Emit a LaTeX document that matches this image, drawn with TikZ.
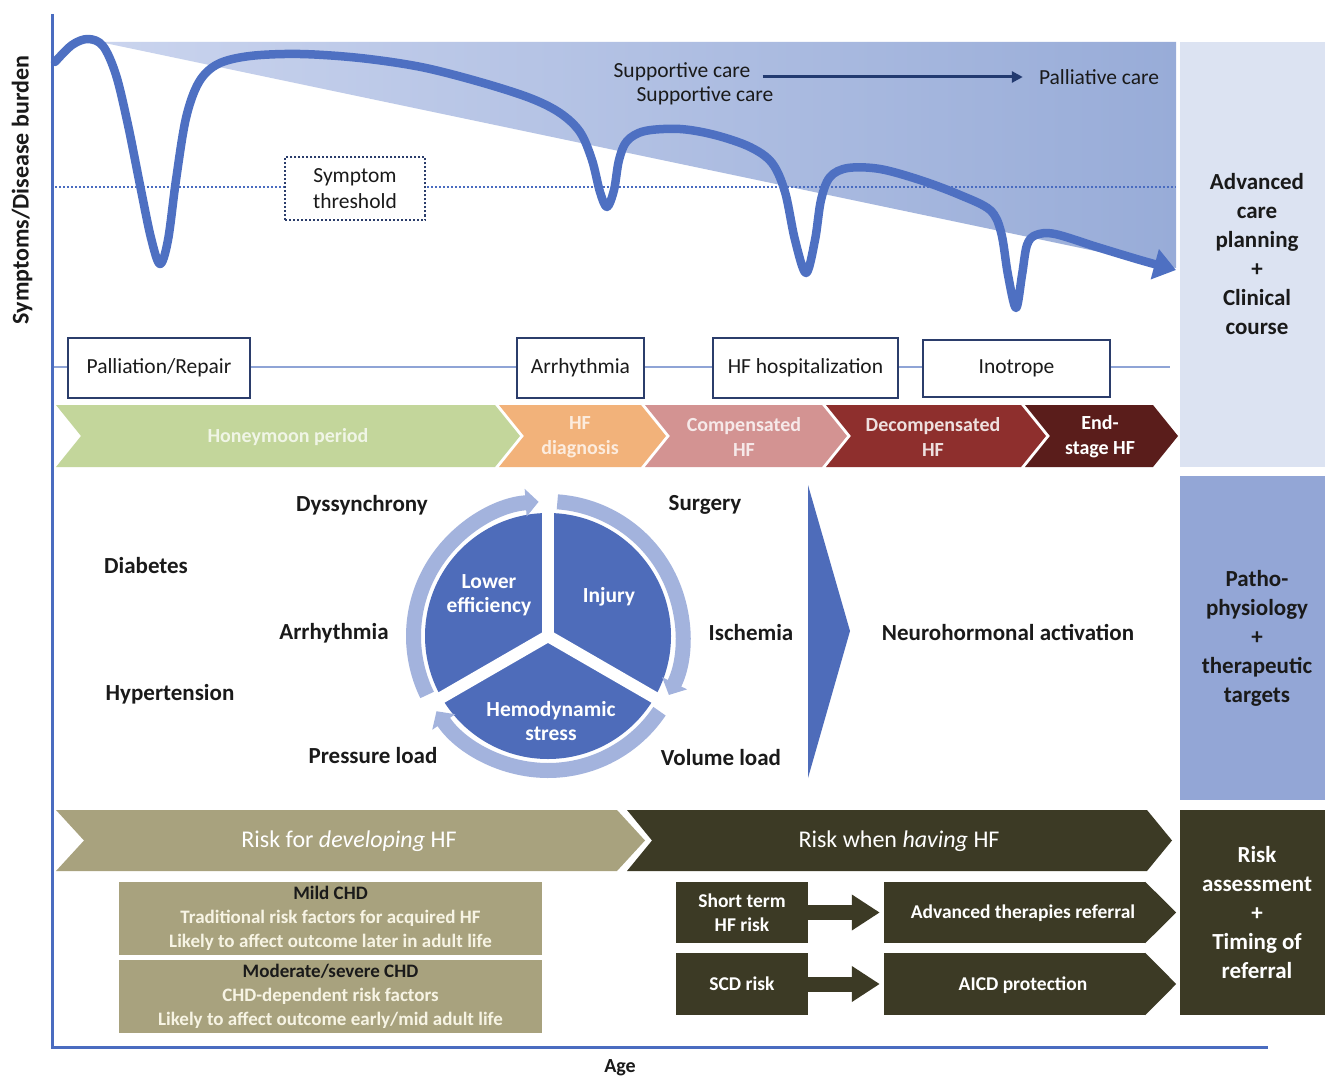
\documentclass[tikz,border=0pt]{standalone}
\usepackage{fontspec}
\setmainfont{Carlito}
\usetikzlibrary{arrows.meta,calc}
\newcommand\fsz[2]{\fontsize{#1}{#2}\selectfont}
\definecolor{axisblue}{HTML}{4A6CC0}
\definecolor{curveblue}{HTML}{4E70C2}
\definecolor{triL}{HTML}{CAD4EE}
\definecolor{triR}{HTML}{98ACD8}
\definecolor{navy}{HTML}{223A70}
\definecolor{evline}{HTML}{8FA4D6}
\definecolor{boxborder}{HTML}{2B3D6B}
\definecolor{honey}{HTML}{C3D69B}
\definecolor{diag}{HTML}{F2B27A}
\definecolor{comp}{HTML}{D39392}
\definecolor{decomp}{HTML}{8E2F2D}
\definecolor{endst}{HTML}{5A1D1B}
\definecolor{ring}{HTML}{A3B3DD}
\definecolor{sector}{HTML}{4E6CBA}
\definecolor{tanc}{HTML}{A8A27E}
\definecolor{olive}{HTML}{3C3A25}
\definecolor{colA}{HTML}{DCE3F2}
\definecolor{colB}{HTML}{93A6D6}
\definecolor{txt}{HTML}{1A1A1A}
\definecolor{cream}{HTML}{F7F4E4}
\newcommand\mychev[6]{\fill[#1] (#2,#4) -- (#3,#4) -- ({#3+#6},{(#4+#5)/2}) -- (#3,#5) -- (#2,#5) -- ({#2+#6},{(#4+#5)/2}) -- cycle;}
\tikzset{
  lbl/.style={font=\fsz{23}{27}\bfseries, text=txt, inner sep=0pt},
  evbox/.style={draw=boxborder, line width=1.8pt, fill=white, font=\fsz{21.5}{25}, text=txt, inner sep=0pt, minimum height=60pt},
  chtx/.style={font=\fsz{20}{25}\bfseries, align=center, inner sep=0pt},
  sidebox/.style={font=\fsz{23}{29}\bfseries, align=center, inner sep=0pt, minimum width=154pt},
  tanbox/.style={fill=tanc, minimum width=423pt, minimum height=73pt, inner sep=0pt, align=center, font=\fsz{19}{24}\bfseries, text=cream},
  darkbox/.style={fill=olive, inner sep=0pt, align=center, font=\fsz{19.5}{24}\bfseries, text=white},
  ringarr/.style={ring, line width=15pt, -{Triangle[width=27pt,length=13pt]}},
  bigarr/.style={olive, line width=15pt, -{Triangle[width=34pt,length=28pt]}},
  sectxt/.style={font=\fsz{21.5}{24}\bfseries, text=white, align=center, inner sep=0pt},
  caretxt/.style={font=\fsz{21.5}{24}, text=txt, inner sep=0pt},
  bandtxt/.style={font=\fsz{24}{28}, text=white, inner sep=0pt},
}
\begin{document}
\begin{tikzpicture}[x=1pt,y=-1pt]
\useasboundingbox (0,0) rectangle (1325,1078);
\fill[white] (0,0) rectangle (1325,1078);

% ---------- right column ----------
\node[sidebox, fill=colA, minimum height=425pt, text=txt] (colA) at (1257,254.5)
  {Advanced\\care\\planning\\+\\Clinical\\course};
\node[sidebox, fill=colB, minimum height=324pt, text=txt] (colB) at (1257,638)
  {Patho-\\physiology\\+\\therapeutic\\targets};
\node[sidebox, fill=olive, minimum height=205pt, text=white] (colC) at (1257,912.5)
  {Risk\\assessment\\+\\Timing of\\referral};

% ---------- top: disease course ----------
\shade[left color=triL, right color=triR] (100,42) -- (1176,42) -- (1176,268) -- cycle;
\draw[axisblue, dotted, line width=2pt] (55,187) -- (1176,187);
\node[draw=boxborder, dotted, line width=2pt, fill=white, minimum width=140pt, minimum height=63pt,
      align=center, font=\fsz{21.5}{26}, text=txt, inner sep=0pt] (thr) at (355,189) {Symptom\\threshold};

\node[caretxt] (sc1) at (682,72) {Supportive care};
\node[caretxt] (sc2) at (705,96) {Supportive care};
\node[caretxt] (pc) at (1099,77) {Palliative care};
\draw[navy, line width=3pt, -{Triangle[width=11pt,length=11pt]}, shorten <=12pt, shorten >=16pt]
  (sc1.east |- pc.west) -- (pc.west);

\draw[curveblue, line width=8.5pt, line cap=round, line join=round, -{Triangle[width=30pt,length=22pt]}]
  plot[smooth, tension=0.55] coordinates {
  (55,62) (72,45) (88,39) (103,46) (116,75) (128,125) (140,185) (151,238) (160,264)
  (168,240) (176,180) (186,118) (199,82) (218,64) (250,56) (300,54) (360,58) (421,67)
  (480,82) (530,98) (560,113) (580,132) (592,160) (600,192) (607,207) (614,190)
  (619,160) (627,141) (645,131) (680,129) (715,135) (750,147) (772,163) (785,192)
  (795,240) (806,273) (815,240) (821,200) (830,177) (848,168) (880,169) (920,180)
  (960,195) (990,210) (1001,232) (1008,275) (1016,308) (1022,275) (1027,245)
  (1036,235) (1055,234) (1097,247) (1140,260) (1176,270)};

% ---------- events ----------
\draw[evline, line width=1.5pt] (52,367) -- (1170,367);
\node[evbox, minimum width=182pt] (pr) at (159,368) {Palliation/Repair};
\node[evbox, minimum width=127pt] (ar) at (580.5,368) {Arrhythmia};
\node[evbox, minimum width=185pt] (hh) at (805.5,368) {HF hospitalization};
\node[evbox, minimum width=187pt, minimum height=57pt] (ino) at (1016.5,368.5) {Inotrope};

% ---------- stages ----------
\mychev{honey}{56}{495}{405}{467}{25}
\mychev{diag}{499}{641}{405}{467}{25}
\mychev{comp}{645}{822}{405}{467}{25}
\mychev{decomp}{826}{1021}{405}{467}{25}
\mychev{endst}{1025}{1153}{405}{467}{25}
\node[chtx, text=honey!25!white] (hm) at (288,437) {Honeymoon period};
\node[chtx, text=diag!25!white] (hd) at (580,437) {HF\\diagnosis};
\node[chtx, text=comp!20!white] (ch) at (744,437) {Compensated\\HF};
\node[chtx, text=decomp!15!white] (dh) at (933,437) {Decompensated\\HF};
\node[chtx, text=white] (eh) at (1100,437) {End-\\stage HF};

% ---------- pathophysiology ----------
\begin{scope}[shift={(548,636)}, y=1pt]
  \fill[sector] (0,0) circle[radius=123];
  \foreach \a in {90,210,330} \draw[white, line width=12pt] (0,0) -- (\a:128);
  \draw[ringarr] (206:134.5) arc[start angle=206, end angle=94, radius=134.5];
  \draw[ringarr] (86:134.5) arc[start angle=86, end angle=-26, radius=134.5];
  \draw[ringarr] (-34:134.5) arc[start angle=-34, end angle=-146, radius=134.5];
\end{scope}
\node[sectxt] (le) at (489,595) {Lower\\efficiency};
\node[sectxt] (inj) at (609,597) {Injury};
\node[sectxt] (hs) at (551,721) {Hemodynamic\\stress};

\node[lbl] (dys) at (362,505) {Dyssynchrony};
\node[lbl] (dia) at (146,566) {Diabetes};
\node[lbl] (arr) at (334,633) {Arrhythmia};
\node[lbl] (hyp) at (170,694) {Hypertension};
\node[lbl] (pl) at (373,756) {Pressure load};
\node[lbl] (sur) at (705,505) {Surgery};
\node[lbl] (isc) at (751,633) {Ischemia};
\node[lbl] (vl) at (721,758) {Volume load};
\fill[sector] (808,485) -- (850,631) -- (808,778) -- cycle;
\node[lbl] (nha) at (1008,632) {Neurohormonal activation};

% ---------- risk ----------
\mychev{tanc}{56}{617}{810}{871}{28}
\mychev{olive}{627}{1147}{810}{871}{25}
\node[bandtxt] (rdev) at (349,841) {Risk for \textit{developing} HF};
\node[bandtxt] (rhav) at (899,841) {Risk when \textit{having} HF};

\node[tanbox] (mild) at (330.5,918.5) {\textcolor{txt}{Mild CHD}\\Traditional risk factors for acquired HF\\Likely to affect outcome later in adult life};
\node[tanbox] (mod) at (330.5,996.5) {\textcolor{txt}{Moderate/severe CHD}\\CHD-dependent risk factors\\Likely to affect outcome early/mid adult life};

\node[darkbox, minimum width=132pt, minimum height=61pt] (st) at (742,912.5) {Short term\\HF risk};
\node[darkbox, minimum width=132pt, minimum height=62pt] (scd) at (742,984) {SCD risk};
\node[darkbox, minimum width=261pt, minimum height=61pt] (atr) at (1014.5,912.5) {};
\node[darkbox, minimum width=261pt, minimum height=62pt] (aicd) at (1014.5,984) {};
\fill[olive] (atr.north east) -- ($(atr.east)+(31,0)$) -- (atr.south east) -- cycle;
\fill[olive] (aicd.north east) -- ($(aicd.east)+(31,0)$) -- (aicd.south east) -- cycle;
\node[darkbox] (atrt) at (1023,913) {Advanced therapies referral};
\node[darkbox] (aicdt) at (1023,985) {AICD protection};
\draw[bigarr, shorten >=4pt] (st.east) -- (atr.west);
\draw[bigarr, shorten >=4pt] (scd.east) -- (aicd.west);

% ---------- axes ----------
\draw[axisblue, line width=3pt] (52,14) -- (52,1047) -- (1268,1047);
\node[lbl, rotate=90, font=\fsz{24}{28}\bfseries] (ylab) at (22,190) {Symptoms/Disease burden};
\node[lbl, font=\fsz{20}{24}\bfseries] (age) at (620,1068) {Age};
\end{tikzpicture}
\end{document}
